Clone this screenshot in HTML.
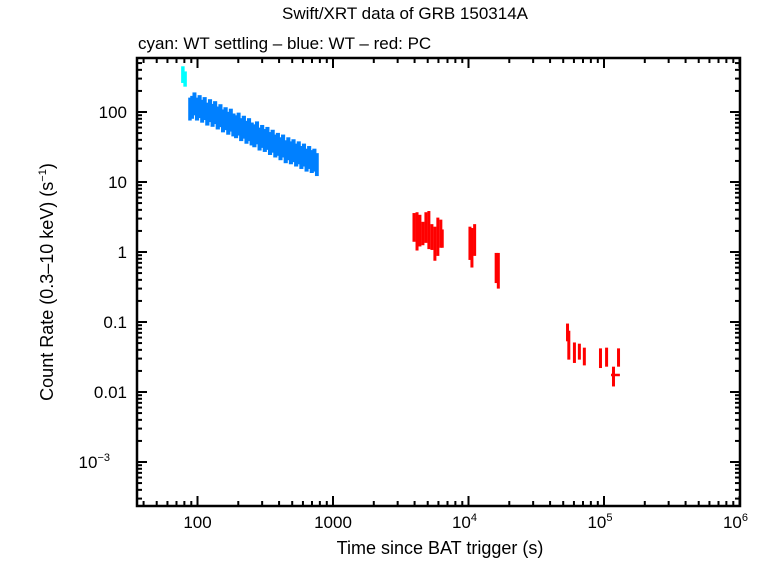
<!DOCTYPE html>
<html><head><meta charset="utf-8"><style>
body{margin:0;background:#fff;width:767px;height:558px;overflow:hidden}
svg text{font-family:"Liberation Sans",sans-serif;fill:#000}
</style></head><body>
<svg id="c" width="767" height="558">
<text x="405" y="19" font-size="17" text-anchor="middle">Swift/XRT data of GRB 150314A</text>
<text x="138" y="49" font-size="17">cyan: WT settling – blue: WT – red: PC</text>
<text x="440" y="554" font-size="18" text-anchor="middle">Time since BAT trigger (s)</text>
<text transform="translate(53,282) rotate(-90)" font-size="18" text-anchor="middle">Count Rate (0.3–10 keV) (s<tspan font-size="11" dy="-7">−1</tspan><tspan dy="7">)</tspan></text>
<g id="marks"></g>
<g id="axes"></g>
</svg>
<script>
const xTickVals=[100,1000,1e4,1e5,1e6];
const xTickLabels=["100","1000","10|4","10|5","10|6"];
const yTickVals=[100,10,1,0.1,0.01,0.001];
const yTickLabels=["100","10","1","0.1","0.01","10|−3"];
const cyanT=[78,81];
const cyanLo=[260,230];
const cyanHi=[450,380];
const blueT=[88,91,95,99,104,108,113,118,124,129,135,141,148,154,161,169,176,184,193,201,210,220,230,240,251,263,275,287,300,314,328,343,359,375,392,410,428,448,468,489,511,535,559,584,611,638,667,697,729,762];
const blueRate=[118,125,140,118,128,110,120,100,112,96,105,88,95,80,86,74,82,70,66,72,60,65,55,60,52,49,54,44,48,42,45,38,41,35,37,32,35,29,32,28,30,26,28,24,26,22,24,21,22,19];
const blueErrFrac=0.36;
const redT=[3960,4170,4380,4610,4850,5100,5370,5650,5940,6250,6400,10250,10600,11100,16000,16600,53800,55000,60500,65800,71600,94200,104500,117500,128000];
const redLo=[1.4,1.05,1.2,1.25,1.35,1.1,1.07,0.75,0.88,1.15,1.15,0.77,0.6,0.88,0.36,0.3,0.053,0.029,0.026,0.029,0.024,0.022,0.023,0.012,0.023];
const redHi=[3.6,3.7,3.4,2.7,3.7,3.85,2.5,2.3,3.1,2.9,2.1,2.3,2.2,2.5,0.97,0.97,0.095,0.075,0.051,0.049,0.043,0.042,0.043,0.023,0.042];
const redXerrLo=[null,null,null,null,null,null,null,null,null,null,null,null,null,null,null,null,null,null,null,null,null,null,null,112700,null];
const redXerrHi=[null,null,null,null,null,null,null,null,null,null,null,null,null,null,null,null,null,null,null,null,null,null,null,131000,null];
const redRate=[null,null,null,null,null,null,null,null,null,null,null,null,null,null,null,null,null,null,null,null,null,null,null,0.0175,null];

const L=137,R=740,T=58,B=506;
const X=t=>197.5+(Math.log10(t)-2)*135.5;
const Y=r=>112-(Math.log10(r)-2)*70;
const NS="http://www.w3.org/2000/svg";
const marks=document.getElementById('marks'),axes=document.getElementById('axes');
function mk(tag,at,parent){const e=document.createElementNS(NS,tag);for(const k in at)e.setAttribute(k,at[k]);parent.appendChild(e);return e;}
function bar(x,y1,y2,w,col,name){
 const e=mk('rect',{x:x-w/2,y:Math.min(y1,y2),width:w,height:Math.abs(y2-y1),fill:col},marks);
 
 
}
cyanT.forEach((t,i)=>bar(X(t),Y(cyanLo[i]),Y(cyanHi[i]),3.5,'#00ffff','wt-settling-point'));
blueT.forEach((t,i)=>{
 const r=blueRate[i];
 const prev=i>0?blueT[i-1]:t/1.035, next=i<blueT.length-1?blueT[i+1]:t*1.035;
 const x1=X(Math.sqrt(prev*t)), x2=X(Math.sqrt(next*t));
 bar((x1+x2)/2,Y(r*(1-blueErrFrac)),Y(r*(1+blueErrFrac)),Math.max(3,x2-x1+1.5),'#0080ff','wt-point');
});
redT.forEach((t,i)=>{
 bar(X(t),Y(redLo[i]),Y(redHi[i]),3,'#ff0000','pc-point');
 if(redXerrLo[i]){
  const e=mk('line',{x1:X(redXerrLo[i]),x2:X(redXerrHi[i]),y1:Y(redRate[i]),y2:Y(redRate[i]),stroke:'#ff0000','stroke-width':2.5},marks);
  
  
 }
});
const fr=mk('rect',{x:L,y:T,width:R-L,height:B-T,fill:'none',stroke:'#000','stroke-width':2.5},axes);


function line(x1,y1,x2,y2){mk('line',{x1,y1,x2,y2,stroke:'#000','stroke-width':2},axes);}
for(let d=1;d<=6;d++)for(let m=1;m<10;m++){
 const v=m*Math.pow(10,d);const x=X(v);if(x<L||x>R+1)continue;
 const len=m===1?10:5;line(x,B,x,B-len);line(x,T,x,T+len);
}
xTickVals.forEach((v,i)=>{
 const p=xTickLabels[i].split('|');
 const t=mk('text',{x:X(v)-(p[1]?4:0),y:528,'font-size':17,'text-anchor':'middle'},axes);
 
 
 t.textContent=p[0];
 if(p[1]){const s=mk('tspan',{dy:-7,'font-size':11},t);s.textContent=p[1];}
});
for(let d=-4;d<=2;d++)for(let m=1;m<10;m++){
 const v=m*Math.pow(10,d);const y=Y(v);if(y<T||y>B)continue;
 const len=m===1?10:5;line(L,y,L+len,y);line(R,y,R-len,y);
}
yTickVals.forEach((v,i)=>{
 const p=yTickLabels[i].split('|');
 const t=mk('text',{x:p[1]?118:127,y:Y(v)+6,'font-size':17,'text-anchor':'end'},axes);
 
 
 t.textContent=p[0];
 if(p[1]){t.setAttribute('x',110);const s=mk('tspan',{dy:-7,'font-size':11},t);s.textContent=p[1];}
});
</script>
</body></html>
